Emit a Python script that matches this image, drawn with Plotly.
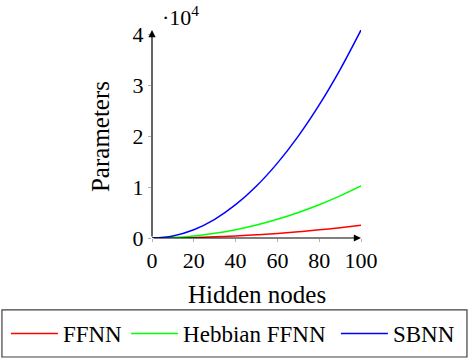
import plotly.graph_objects as go

# hidden nodes on the x axis
hidden_nodes = [0, 10, 20, 30, 40, 50, 60, 70, 80, 90, 100]

# parameter counts
ffnn = [0, 30, 100, 230, 400, 630, 900, 1230, 1600, 2030, 2500]
hebbian_ffnn = [0, 100, 410, 920, 1630, 2550, 3670, 5000, 6530, 8260, 10200]
sbnn = [0, 410, 1630, 3670, 6530, 10200, 14690, 19990, 26110, 33050, 40800]

x_ticks = [0, 20, 40, 60, 80, 100]
y_ticks = [0, 10000, 20000, 30000, 40000]
y_tick_text = ["0", "1", "2", "3", "4"]

FONT = "Liberation Serif"
serif = dict(family=FONT, size=22, color="black")

fig = go.Figure()

# one legend per series so the row never wraps
series = [("FFNN", ffnn, "#ff0000", "legend", -0.699),
          ("Hebbian FFNN", hebbian_ffnn, "#00ff00", "legend2", -0.124),
          ("SBNN", sbnn, "#0000ff", "legend3", 0.88)]
for name, values, color, leg, _ in series:
    fig.add_trace(go.Scatter(x=hidden_nodes, y=values, name=name, mode="lines",
                             legend=leg,
                             line=dict(color=color, width=1.5, shape="spline")))

fig.update_layout(
    width=470, height=360,
    margin=dict(l=152, r=109, t=30, b=122, autoexpand=False),
    plot_bgcolor="white", paper_bgcolor="white",
    font=serif,
    showlegend=True,
)
for name, values, color, leg, xpos in series:
    fig.update_layout({leg: dict(orientation="h", x=xpos, y=-0.459, xanchor="left",
                                 yanchor="middle", bgcolor="rgba(0,0,0,0)",
                                 borderwidth=0, itemwidth=47,
                                 font=dict(family=FONT, size=23, color="black"))})

fig.update_xaxes(range=[0, 100], tickvals=x_ticks, showgrid=False, zeroline=False,
                 showline=False, ticks="outside", ticklen=3, tickcolor="#b0b0b0",
                 automargin=False, tickfont=serif)
fig.update_yaxes(range=[0, 40800], tickvals=y_ticks, ticktext=y_tick_text, showgrid=False,
                 zeroline=False, showline=False, ticks="outside", ticklen=3,
                 tickcolor="#b0b0b0", automargin=False, tickfont=serif)

# axis titles
title_font = dict(family=FONT, size=25, color="black")
fig.add_annotation(x=0.5, y=-0.27, xref="paper", yref="paper", text="Hidden nodes",
                   showarrow=False, xanchor="center", yanchor="middle", font=title_font)
fig.add_annotation(x=-0.249, y=0.49, xref="paper", yref="paper", text="Parameters",
                   showarrow=False, textangle=-90, xanchor="center", yanchor="middle",
                   font=title_font)

# axis lines with arrow heads
fig.add_annotation(x=100, y=0, ax=0, ay=0, xref="x", yref="y", axref="x", ayref="y",
                   text="", showarrow=True, arrowhead=2, arrowsize=1.2, arrowwidth=1.2,
                   arrowcolor="black")
fig.add_annotation(x=0, y=40800, ax=0, ay=0, xref="x", yref="y", axref="x", ayref="y",
                   text="", showarrow=True, arrowhead=2, arrowsize=1.2, arrowwidth=1.2,
                   arrowcolor="black")

# scale factor label
fig.add_annotation(x=0.04, y=1.0, xref="paper", yref="paper", xanchor="left",
                   yanchor="bottom", yshift=-2, text="·10<sup>4</sup>", showarrow=False,
                   font=serif)

# legend frame
fig.add_shape(type="rect", xref="paper", yref="paper", x0=-0.718, x1=1.507,
              y0=-0.572, y1=-0.346, line=dict(color="#404040", width=1.2))

fig.write_html("out.html", config={"displayModeBar": False},
               post_script="document.body.style.margin='0';")
